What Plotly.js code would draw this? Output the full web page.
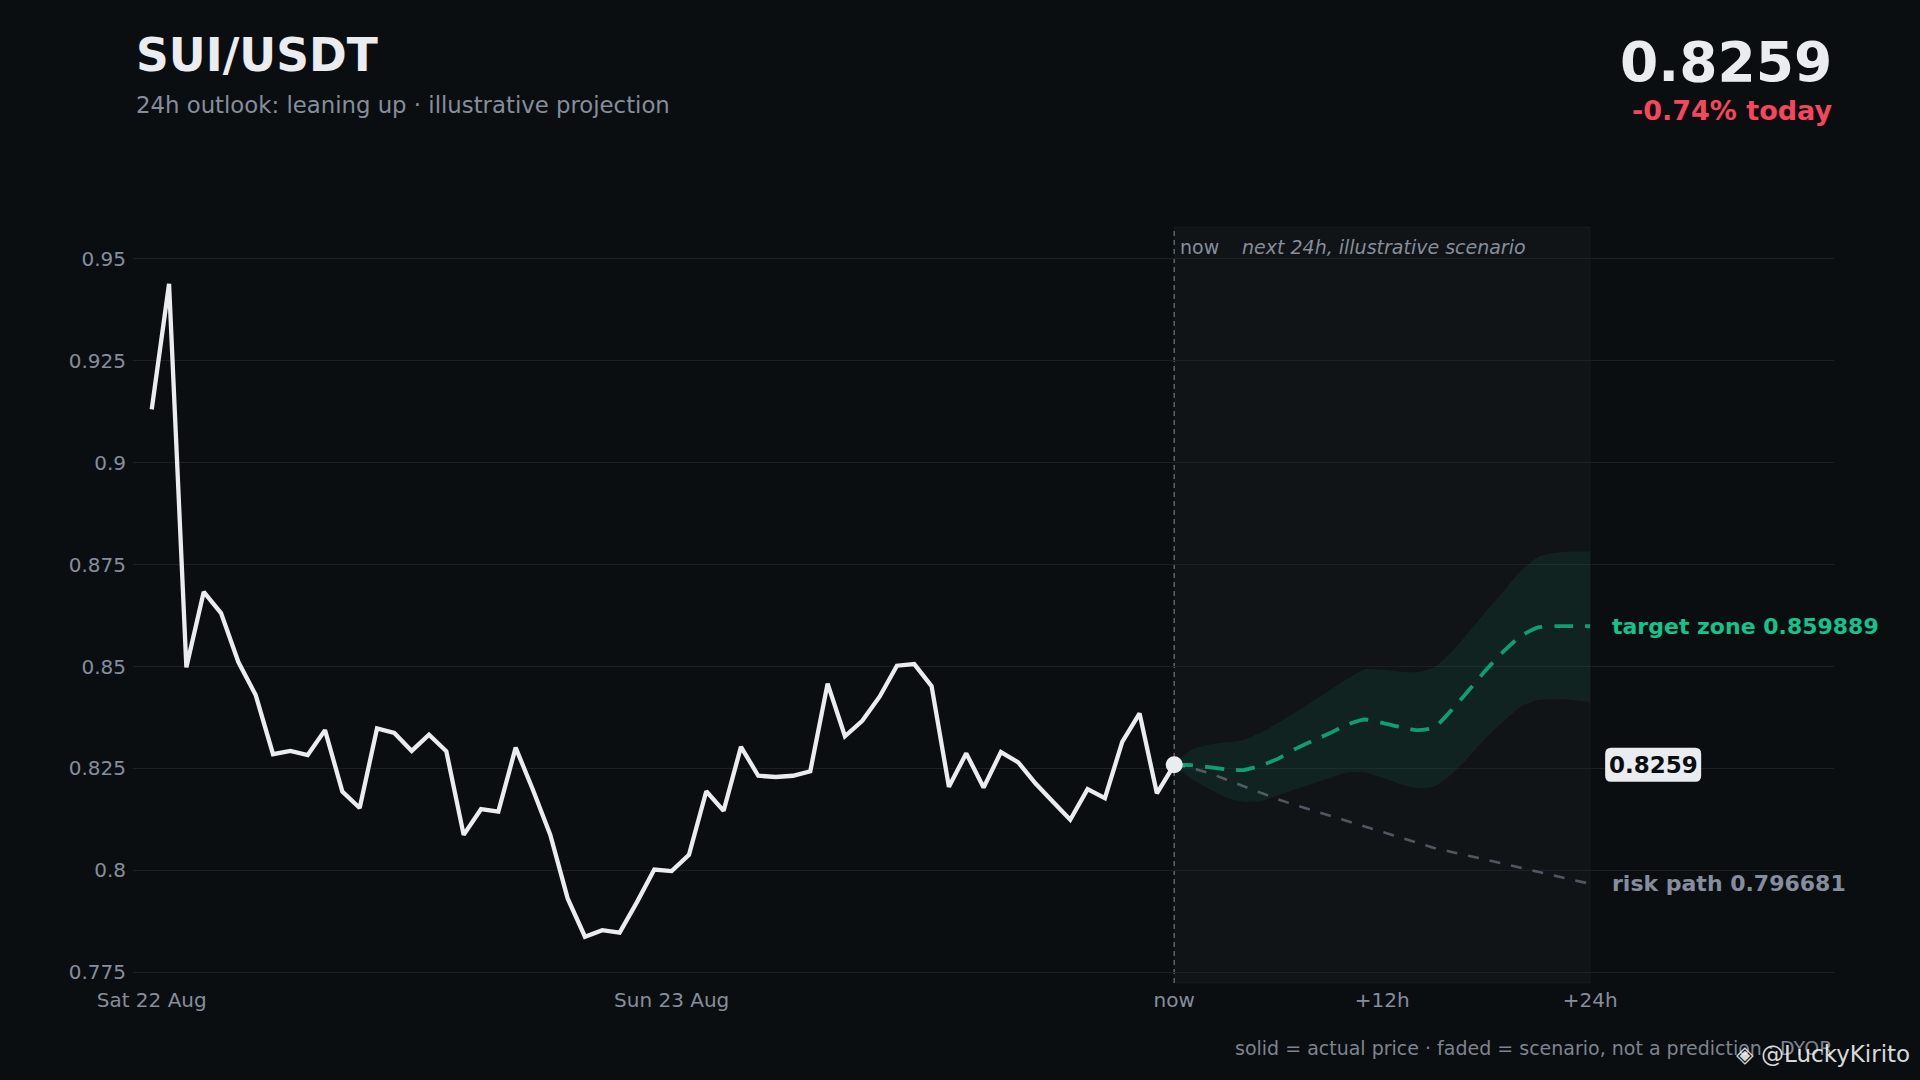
<!DOCTYPE html>
<html>
<head>
<meta charset="utf-8">
<script src="https://cdn.plot.ly/plotly-3.0.1.min.js"></script>
<style>
html,body{margin:0;padding:0;background:#0b0e11;}
#chart{width:1920px;height:1080px;}
</style>
</head>
<body>
<div id="chart"></div>
<script>
// ---- data ----
const pairName = "SUI/USDT";
const subtitleText = "24h outlook: leaning up · illustrative projection";
const lastPriceText = "0.8259";
const changeText = "-0.74% today";

// hourly history, oldest first, last value = now
const historyPrice = [
  0.9131, 0.9439, 0.8498, 0.8683, 0.8631, 0.8511, 0.8430, 0.8285, 0.8293, 0.8283,
  0.8344, 0.8193, 0.8153, 0.8348, 0.8337, 0.8293, 0.8333, 0.8292, 0.8087, 0.8150,
  0.8144, 0.8301, 0.8197, 0.8087, 0.7931, 0.7837, 0.7853, 0.7847, 0.7922, 0.8002,
  0.7998, 0.8038, 0.8194, 0.8146, 0.8303, 0.8232, 0.8229, 0.8232, 0.8243, 0.8458,
  0.8329, 0.8367, 0.8426, 0.8502, 0.8506, 0.8452, 0.8205, 0.8287, 0.8203, 0.8290,
  0.8265, 0.8213, 0.8168, 0.8124, 0.8199, 0.8177, 0.8315, 0.8385, 0.8189, 0.8259
];

// scenario, hours after now (0..24)
const scenarioHours = [0,1,2,3,4,5,6,7,8,9,10,11,12,13,14,15,16,17,18,19,20,21,22,23,24];
const targetPath = [
  0.8259, 0.8258, 0.8253, 0.8248, 0.8246, 0.8257, 0.8274, 0.8298, 0.8318, 0.8337,
  0.8358, 0.8370, 0.8362, 0.8352, 0.8344, 0.8350, 0.8393, 0.8442, 0.8492, 0.8537,
  0.8575, 0.8596, 0.8599, 0.8599, 0.859889
];
const bandUpper = [
  0.8259, 0.8296, 0.8308, 0.8314, 0.8320, 0.8338, 0.8362, 0.8388, 0.8415, 0.8443,
  0.8470, 0.8493, 0.8492, 0.8488, 0.8486, 0.8498, 0.8536, 0.8585, 0.8636, 0.8685,
  0.8735, 0.8769, 0.8779, 0.8782, 0.8783
];
const bandLower = [
  0.8259, 0.8224, 0.8200, 0.8178, 0.8168, 0.8170, 0.8184, 0.8199, 0.8213, 0.8227,
  0.8240, 0.8240, 0.8227, 0.8212, 0.8202, 0.8205, 0.8235, 0.8278, 0.8325, 0.8365,
  0.8402, 0.8418, 0.8420, 0.8418, 0.8413
];
const riskPath = [
  0.8259, 0.8251, 0.8239, 0.8223, 0.8206, 0.8190, 0.8174, 0.8160, 0.8147, 0.8134,
  0.8120, 0.8107, 0.8094, 0.8081, 0.8068, 0.8055, 0.8045, 0.8036, 0.8026, 0.8016,
  0.8006, 0.7997, 0.7987, 0.7977, 0.796681
];

const xTickVals = [0, 30, 59, 71, 83];
const xTickText = ["Sat 22 Aug", "Sun 23 Aug", "now", "+12h", "+24h"];
const yTickVals = [0.775, 0.8, 0.825, 0.85, 0.875, 0.9, 0.925, 0.95];
const yTickText = ["0.775", "0.8", "0.825", "0.85", "0.875", "0.9", "0.925", "0.95"];
const footerText = "solid = actual price · faded = scenario, not a prediction · DYOR";
const watermarkText = "◈ @LuckyKirito";

// ---- build ----
const nowIdx = historyPrice.length - 1;
const histX = historyPrice.map((_, i) => i);
const scenX = scenarioHours.map(h => nowIdx + h);
const endX = scenX[scenX.length - 1];
const nowPrice = historyPrice[nowIdx];

const FONT = "DejaVu Sans, Verdana, sans-serif";
const GREEN = "#12c48b";
const GREY = "#848e9c";
const WHITE = "#eaecef";

const M = {l: 133, r: 86, t: 227, b: 97};
const PW = 1920 - M.l - M.r, PH = 1080 - M.t - M.b;
const px = x => (x - M.l) / PW;
const py = y => (1080 - M.b - y) / PH;

const traces = [
  {x: scenX, y: bandUpper, mode: "lines", line: {width: 0, shape: "spline", smoothing: 0.6},
   hoverinfo: "skip", showlegend: false},
  {x: scenX, y: bandLower, mode: "lines", line: {width: 0, shape: "spline", smoothing: 0.6},
   fill: "tonexty", fillcolor: "rgba(16,185,129,0.09)", hoverinfo: "skip", showlegend: false},
  {x: scenX, y: riskPath, mode: "lines",
   line: {color: "rgba(132,142,156,0.55)", width: 2.6, dash: "11px,11px"}, showlegend: false},
  {x: scenX, y: targetPath, mode: "lines",
   line: {color: "rgba(16,185,129,0.82)", width: 3.8, dash: "19px,12px", shape: "spline", smoothing: 0.5},
   showlegend: false},
  {x: histX, y: historyPrice, mode: "lines",
   line: {color: WHITE, width: 4.3}, showlegend: false},
  {x: [nowIdx], y: [nowPrice], mode: "markers",
   marker: {color: WHITE, size: 17, line: {width: 0}}, showlegend: false}
];

const ann = (o) => Object.assign({showarrow: false, font: {family: FONT}}, o);

const layout = {
  width: 1920, height: 1080,
  paper_bgcolor: "#0b0e11", plot_bgcolor: "#0b0e11",
  margin: M,
  showlegend: false,
  hovermode: false,
  xaxis: {
    range: [-1.08, 97.07], tickvals: xTickVals, ticktext: xTickText,
    showgrid: false, zeroline: false, showline: false,
    ticks: "", ticklabelstandoff: 3,
    tickfont: {family: FONT, size: 20, color: GREY}
  },
  yaxis: {
    range: [0.77235, 0.95785], tickvals: yTickVals, ticktext: yTickText,
    showgrid: true, gridcolor: "#1b2027", gridwidth: 1, zeroline: false, showline: false,
    ticks: "outside", ticklen: 2, tickcolor: "rgba(0,0,0,0)",
    tickfont: {family: FONT, size: 20, color: GREY}
  },
  shapes: [
    {type: "rect", xref: "x", yref: "paper", x0: nowIdx, x1: endX, y0: 0, y1: 1,
     fillcolor: "rgba(255,255,255,0.028)", line: {color: "rgba(255,255,255,0.04)", width: 1}, layer: "below"},
    {type: "line", xref: "x", yref: "paper", x0: nowIdx, x1: nowIdx, y0: 0, y1: 1,
     line: {color: "#5d636c", width: 1.5, dash: "5px,4px"}, layer: "below"},
    {type: "path", xref: "x", yref: "y", xsizemode: "pixel", ysizemode: "pixel",
     xanchor: endX, yanchor: nowPrice,
     path: "M 21,-17 L 105,-17 Q 111,-17 111,-11 L 111,11 Q 111,17 105,17 L 21,17 Q 15,17 15,11 L 15,-11 Q 15,-17 21,-17 Z",
     fillcolor: "#eaecef", line: {width: 0}, layer: "above"}
  ],
  annotations: [
    ann({xref: "paper", yref: "paper", x: px(134), y: py(55), xanchor: "left", yanchor: "middle",
         text: "<b>" + pairName + "</b>", font: {family: FONT, size: 45.5, color: WHITE}}),
    ann({xref: "paper", yref: "paper", x: px(134), y: py(105), xanchor: "left", yanchor: "middle",
         text: subtitleText, font: {family: FONT, size: 22.8, color: GREY}}),
    ann({xref: "paper", yref: "paper", x: px(1834), y: py(62), xanchor: "right", yanchor: "middle",
         text: "<b>" + lastPriceText + "</b>", font: {family: FONT, size: 55, color: WHITE}}),
    ann({xref: "paper", yref: "paper", x: px(1834), y: py(111), xanchor: "right", yanchor: "middle",
         text: "<b>" + changeText + "</b>", font: {family: FONT, size: 27, color: "#f6465d"}}),
    ann({xref: "x", yref: "paper", x: nowIdx, xshift: 4, y: py(247), xanchor: "left", yanchor: "middle",
         text: "now", font: {family: FONT, size: 19, color: GREY}}),
    ann({xref: "x", yref: "paper", x: nowIdx, xshift: 66, y: py(247), xanchor: "left", yanchor: "middle",
         text: "<i>next 24h, illustrative scenario</i>", font: {family: FONT, size: 19, color: GREY}}),
    ann({xref: "x", yref: "y", x: endX, xshift: 20, y: targetPath[targetPath.length - 1], xanchor: "left", yanchor: "middle",
         text: "<b>target zone " + targetPath[targetPath.length - 1] + "</b>", font: {family: FONT, size: 22, color: GREEN}}),
    ann({xref: "x", yref: "y", x: endX, xshift: 63, y: nowPrice, xanchor: "center", yanchor: "middle",
         text: "<b>" + lastPriceText + "</b>", font: {family: FONT, size: 23, color: "#0b0e11"}}),
    ann({xref: "x", yref: "y", x: endX, xshift: 20, y: riskPath[riskPath.length - 1], xanchor: "left", yanchor: "middle",
         text: "<b>risk path " + riskPath[riskPath.length - 1] + "</b>", font: {family: FONT, size: 22, color: GREY}}),
    ann({xref: "paper", yref: "paper", x: px(1834), y: py(1048), xanchor: "right", yanchor: "middle",
         text: footerText, font: {family: FONT, size: 19, color: "#7d8590"}}),
    ann({xref: "paper", yref: "paper", x: px(1912), y: py(1054), xanchor: "right", yanchor: "middle",
         text: watermarkText, font: {family: FONT, size: 23, color: "rgba(255,255,255,0.85)"}})
  ]
};

Plotly.newPlot("chart", traces, layout, {displayModeBar: false, staticPlot: true});
</script>
</body>
</html>
